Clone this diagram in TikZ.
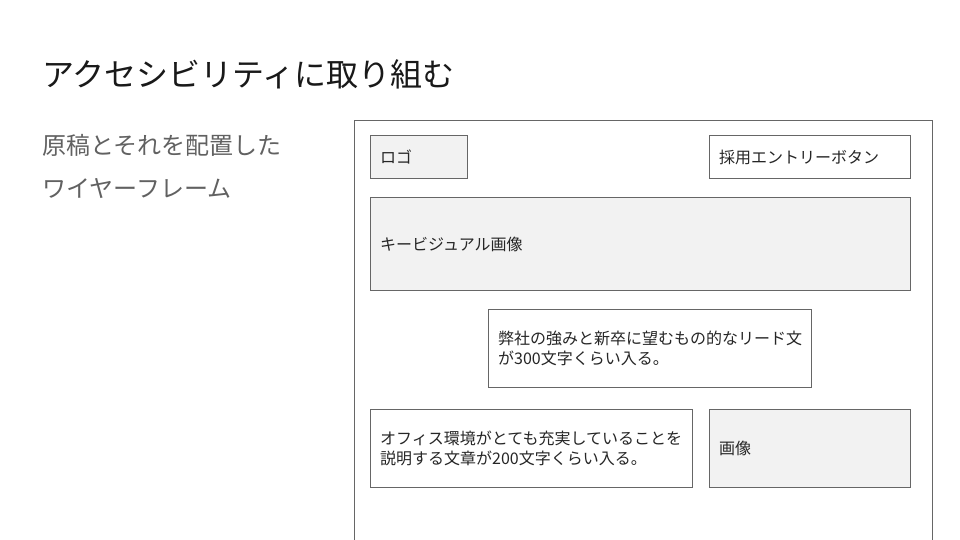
\documentclass[tikz,border=0pt]{standalone}
\usepackage{fontspec}
\setmainfont{Noto Sans CJK JP}
\begin{document}
\begin{tikzpicture}[x=1pt,y=-1pt,
  box/.style={draw=black!60,line width=1pt,rectangle,inner sep=0pt,anchor=north west},
  gbox/.style={box,fill=black!5},
  wbox/.style={box,fill=white},
  lbl/.style={anchor=west,inner sep=0pt,align=left,font=\fontsize{16}{20}\selectfont,text=black!85},
]
\useasboundingbox (0,0) rectangle (960,540);
\begin{scope}
\clip (0,0) rectangle (960,540);
\node[box,minimum width=578pt,minimum height=440pt] (frame) at (354,120) {};
\end{scope}
\node[anchor=west,inner sep=0pt,font=\fontsize{32}{36}\selectfont,text=black!90] (title) at (42,74) {アクセシビリティに取り組む};
\node[anchor=west,inner sep=0pt,font=\fontsize{24}{28}\selectfont,text=black!62] (sub1) at (42,145) {原稿とそれを配置した};
\node[anchor=west,inner sep=0pt,font=\fontsize{24}{28}\selectfont,text=black!62] (sub2) at (42,188) {ワイヤーフレーム};

\node[gbox,minimum width=97pt,minimum height=43pt] (logo) at (370,135) {};
\node[lbl] (logot) at ([xshift=10pt]logo.west) {ロゴ};
\node[wbox,minimum width=201pt,minimum height=43pt] (btn) at (709,135) {};
\node[lbl] (btnt) at ([xshift=10pt]btn.west) {採用エントリーボタン};
\node[gbox,minimum width=540pt,minimum height=93pt] (kv) at (370,197) {};
\node[lbl] (kvt) at ([xshift=10pt]kv.west) {キービジュアル画像};
\node[wbox,minimum width=323pt,minimum height=78pt] (lead) at (488,309) {};
\node[lbl] (leadt) at ([xshift=10pt]lead.west) {弊社の強みと新卒に望むもの的なリード文\\が300文字くらい入る。};
\node[wbox,minimum width=322pt,minimum height=78pt] (office) at (370,409) {};
\node[lbl] (officet) at ([xshift=10pt]office.west) {オフィス環境がとても充実していることを\\説明する文章が200文字くらい入る。};
\node[gbox,minimum width=201pt,minimum height=78pt] (img) at (709,409) {};
\node[lbl] (imgt) at ([xshift=10pt]img.west) {画像};
\end{tikzpicture}
\end{document}
